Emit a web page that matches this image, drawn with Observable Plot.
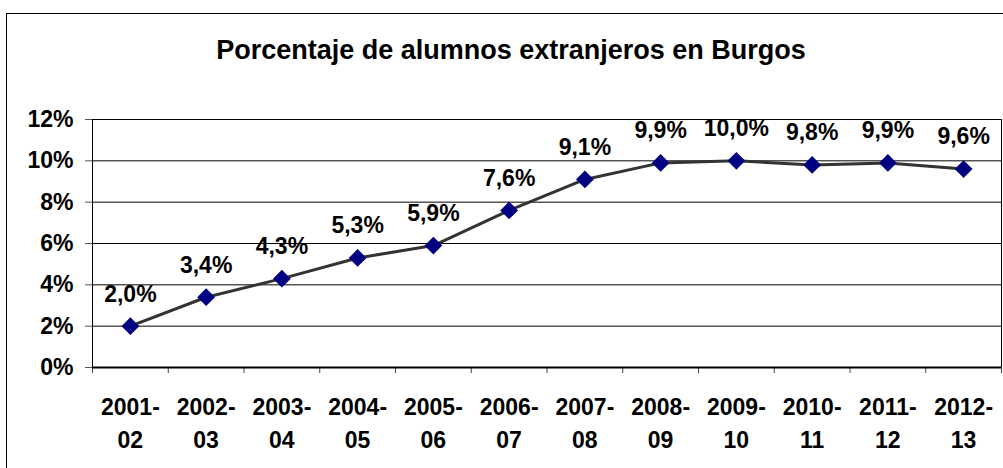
<!DOCTYPE html>
<html>
<head>
<meta charset="utf-8">
<script src="https://cdn.jsdelivr.net/npm/d3@7"></script>
<script src="https://cdn.jsdelivr.net/npm/@observablehq/plot@0.6"></script>
<style>
  html, body { margin: 0; padding: 0; background: #fff; overflow: hidden; }
  #wrap { position: relative; width: 1003px; height: 468px; }
  #border { position: absolute; left: 6px; top: 13px; width: 1100px; height: 600px; border: 1px solid #000; pointer-events: none; }
  svg { position: absolute; left: 0; top: 0; }
</style>
</head>
<body>
<div id="wrap"><div id="border"></div></div>
<script>
const title = "Porcentaje de alumnos extranjeros en Burgos";
const categories = ["2001-02","2002-03","2003-04","2004-05","2005-06","2006-07","2007-08","2008-09","2009-10","2010-11","2011-12","2012-13"];
const values = [2.0, 3.4, 4.3, 5.3, 5.9, 7.6, 9.1, 9.9, 10.0, 9.8, 9.9, 9.6];
const yTicks = [0, 2, 4, 6, 8, 10, 12];

const data = categories.map((c, i) => ({i, c, v: values[i]}));
const idx = categories.map((c, i) => i);
const bounds = [...idx.map(i => i - 0.5), categories.length - 0.5];
const fmt = v => v.toFixed(1).replace(".", ",") + "%";
const font = "Liberation Sans, Arial, sans-serif";

const chart = Plot.plot({
  width: 1003,
  height: 468,
  marginLeft: 92,
  marginRight: 2,
  marginTop: 119,
  marginBottom: 101,
  style: {fontFamily: font, background: "transparent", overflow: "visible"},
  x: {domain: [-0.5, categories.length - 0.5]},
  y: {domain: [0, 12]},
  marks: [
    Plot.gridY(yTicks.filter(d => d > 0), {stroke: "#000", strokeOpacity: 1, strokeWidth: 1}),
    Plot.ruleX([bounds[0], bounds[bounds.length - 1]], {stroke: "#000", strokeWidth: 1}),
    Plot.axisY({ticks: yTicks, tickFormat: d => d + "%", tickSize: 7, tickPadding: 12, fontSize: 23, fontWeight: "bold", fill: "#000", stroke: "#555", label: null}),
    Plot.axisX({ticks: bounds, tickFormat: () => "", tickSize: 6, stroke: "#444", label: null}),
    Plot.axisX({ticks: idx, tickFormat: i => categories[i].replace("-", "-\n"), tickSize: 0, tickPadding: 24, lineHeight: 1.43, fontSize: 23, fontWeight: "bold", fill: "#000", label: null}),
    Plot.ruleY([0], {stroke: "#000", strokeWidth: 2}),
    Plot.line(data, {x: "i", y: "v", stroke: "#333", strokeWidth: 3}),
    Plot.dot(data, {x: "i", y: "v", symbol: "diamond2", r: 8, fill: "#000080", stroke: "none"}),
    Plot.text(data, {x: "i", y: "v", text: d => fmt(d.v), dy: -32, fontSize: 23, fontWeight: "bold", fill: "#000"}),
    Plot.text([title], {frameAnchor: "top", dx: -36, dy: -69, lineAnchor: "middle", fontSize: 27, fontWeight: "bold", fill: "#000"})
  ]
});
document.getElementById("wrap").prepend(chart);
</script>
</body>
</html>
